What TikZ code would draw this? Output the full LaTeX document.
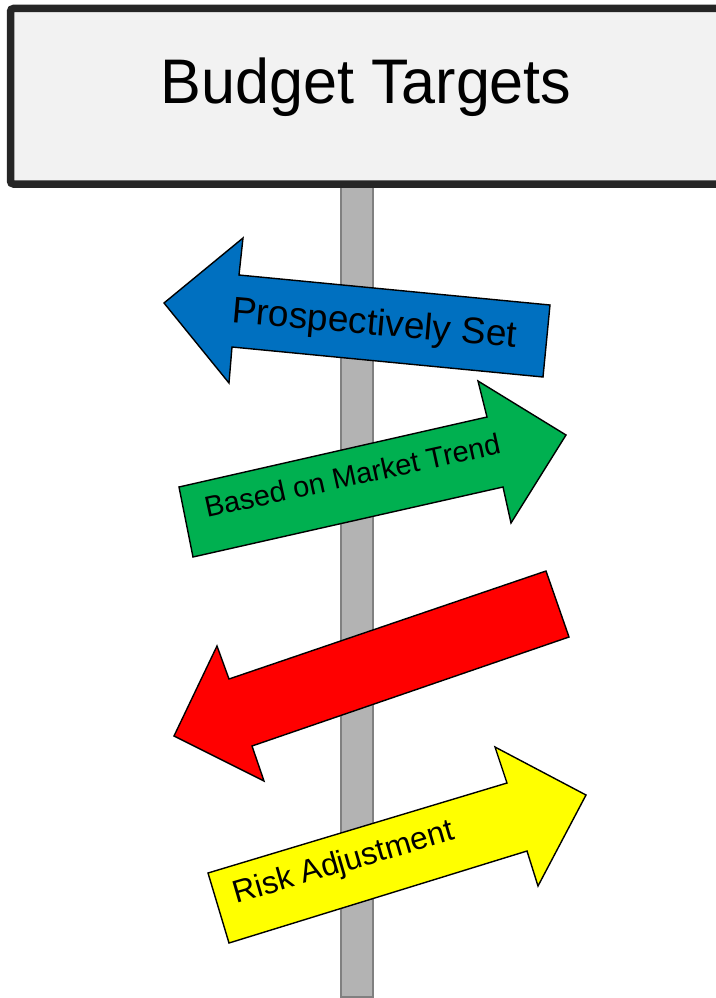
\documentclass[tikz,border=0pt]{standalone}
\usepackage{fontspec}
\setmainfont{Liberation Sans}
\definecolor{signfill}{HTML}{F2F2F2}
\definecolor{signedge}{HTML}{262626}
\definecolor{polefill}{HTML}{B3B3B3}
\definecolor{poleedge}{HTML}{808080}
\definecolor{arblue}{HTML}{0070C0}
\definecolor{argreen}{HTML}{00B050}
\definecolor{arred}{HTML}{FF0000}
\definecolor{aryellow}{HTML}{FFFF00}
\tikzset{
  arrowshape/.style={draw=black, line width=1.4pt, line join=miter},
  armlabel/.style={anchor=base, inner sep=0pt, text=black},
}
\begin{document}
\begin{tikzpicture}[x=1pt,y=-1pt]
\useasboundingbox (0,0) rectangle (715,998);
% pole
\draw[fill=polefill, draw=poleedge, line width=1.5pt] (341,180) rectangle (373,997);
% sign
\draw[fill=signfill, draw=signedge, line width=7.5pt, rounded corners=3pt] (10.5,8.5) rectangle (722,184);
\node[anchor=base, inner sep=0pt] (title) at (366,103) {\scalebox{0.97}[1]{\fontsize{63}{70}\selectfont Budget Targets}};
% blue arrow
\draw[arrowshape, fill=arblue] (164,303) -- (243,238) -- (239,275) -- (550,305) -- (543,377) -- (232,347) -- (229,383) -- cycle;
\node[armlabel, rotate=-5] (prosp) at (373.5,335) {\fontsize{37}{40}\selectfont Prospectively Set};
% green arrow
\draw[arrowshape, fill=argreen] (193,557) -- (179,487) -- (487,417) -- (478,381) -- (566,435) -- (511,523) -- (503,487) -- cycle;
\node[armlabel, rotate=12.4] (market) at (354.5,485.5) {\fontsize{29}{32}\selectfont Based on Market Trend};
% red arrow
\draw[arrowshape, fill=arred] (546,571) -- (569,637) -- (252,746) -- (264,781) -- (174,736) -- (217,646) -- (229,679) -- cycle;
% yellow arrow
\draw[arrowshape, fill=aryellow] (208,873) -- (507,783) -- (495,747) -- (586,795) -- (538,886) -- (527,851) -- (229,943) -- cycle;
\node[armlabel, rotate=16.3] (risk) at (346,871.5) {\fontsize{31.6}{34}\selectfont Risk Adjustment};
\end{tikzpicture}
\end{document}
